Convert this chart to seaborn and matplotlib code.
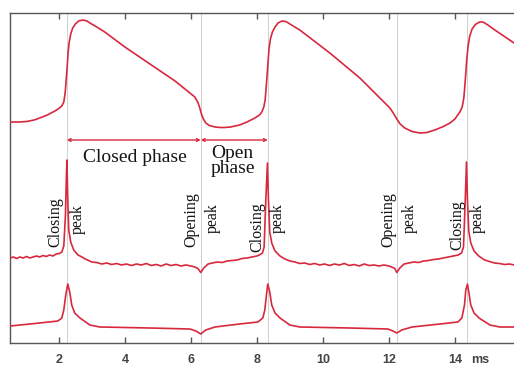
import numpy as np
import pandas as pd
import matplotlib
matplotlib.use("Agg")
import matplotlib.pyplot as plt
import seaborn as sns

# ---- data (time in ms, amplitudes in arbitrary display units) ----
egg_t = [0.52, 0.80, 1.03, 1.25, 1.42, 1.65, 1.88, 2.00, 2.09, 2.15, 2.19, 2.22, 2.25,
         2.28, 2.31, 2.36, 2.42, 2.50, 2.60, 2.73, 2.85, 2.94, 3.10, 3.39, 4.00, 4.76,
         5.52, 6.12, 6.22, 6.27, 6.32, 6.38, 6.45, 6.56, 6.73, 6.90, 7.03, 7.20, 7.48,
         7.70, 7.94, 8.08, 8.15, 8.21, 8.25, 8.28, 8.31, 8.34, 8.37, 8.41, 8.47, 8.55,
         8.64, 8.76, 8.88, 9.00, 9.30, 10.21, 11.12, 12.03, 12.15, 12.24, 12.34, 12.48,
         12.70, 12.94, 13.15, 13.39, 13.65, 13.85, 14.00, 14.15, 14.22, 14.27, 14.30,
         14.33, 14.36, 14.40, 14.45, 14.52, 14.62, 14.75, 14.85, 15.00, 15.21, 15.79]
egg_v = [221, 221, 221.5, 223, 225, 228, 232, 234.5, 237, 241, 250, 262, 275,
         290, 300, 309, 315, 319, 322, 323, 322, 320, 317, 311, 296, 279,
         262, 246, 240, 235, 229, 224, 220, 217.5, 216, 215.5, 215.5, 216, 218,
         221, 225, 228, 231, 236, 243, 255, 268, 282, 295, 304, 311, 316,
         320, 322, 321.5, 319, 313, 290, 265, 235, 229, 224, 219, 215,
         211.5, 210, 210.5, 213, 216.5, 220, 224, 231, 236, 245, 257,
         270, 284, 297, 307, 314, 318.5, 321, 321, 318, 313, 300]

degg_t = [0.52, 0.62, 0.72, 0.82, 0.92, 1.02, 1.12, 1.22, 1.32, 1.42, 1.52, 1.62, 1.72,
          1.82, 1.92, 2.02, 2.09, 2.15, 2.20, 2.23, 2.245, 2.27, 2.30, 2.36, 2.45, 2.58,
          2.70, 2.80, 2.90, 3.00, 3.15, 3.30, 3.45, 3.60, 3.75, 3.90, 4.05, 4.20, 4.35,
          4.50, 4.65, 4.80, 4.95, 5.10, 5.25, 5.40, 5.55, 5.70, 5.85, 6.00, 6.12, 6.21,
          6.30, 6.39, 6.52, 6.65, 6.80, 6.95, 7.10, 7.25, 7.40, 7.55, 7.70, 7.85, 8.00,
          8.10, 8.17, 8.22, 8.27, 8.32, 8.35, 8.39, 8.45, 8.55, 8.70, 8.85, 9.00, 9.15,
          9.30, 9.45, 9.60, 9.75, 9.90, 10.05, 10.20, 10.35, 10.50, 10.65, 10.80, 10.95,
          11.10, 11.25, 11.40, 11.55, 11.70, 11.85, 12.00, 12.12, 12.18, 12.24, 12.33,
          12.46, 12.60, 12.75, 12.90, 13.05, 13.20, 13.35, 13.50, 13.65, 13.80, 13.95,
          14.10, 14.20, 14.26, 14.31, 14.35, 14.38, 14.42, 14.48, 14.58, 14.72, 14.90,
          15.05, 15.20, 15.35, 15.50, 15.65, 15.80]
degg_v = [85, 86, 84.5, 86, 85, 86.5, 85, 86, 87, 86, 87.5, 86.5, 88,
          87, 89, 89.5, 91, 97, 128, 168, 183, 143, 113, 101, 93, 88,
          86, 84, 82.5, 81, 80.5, 79, 80, 78.5, 79.5, 78, 79, 77.5, 79,
          78, 79.5, 77.5, 78.5, 77, 79, 77.5, 78.5, 77, 78, 77, 76, 74.5,
          70.5, 75, 79, 80, 81, 80.5, 82, 82.5, 83, 84.5, 85, 86, 87,
          88.5, 90, 96, 143, 180, 143, 111, 100, 92, 87, 84, 82, 81,
          79.5, 80, 78.5, 79.5, 78, 79, 77.5, 79, 78, 79.5, 77.5, 78.5,
          77, 79, 77.5, 78, 77, 78, 77, 75.5, 74.5, 70.5, 75,
          79, 80, 81, 80.5, 82, 82.5, 83.5, 84, 85, 86, 87,
          88, 90, 96, 140, 181, 143, 112, 100, 92, 87, 83,
          81.5, 80, 79.5, 78.5, 79, 78]

sm_t = [0.52, 1.42, 1.97, 2.09, 2.15, 2.21, 2.27, 2.33, 2.39, 2.48, 2.64, 2.94, 3.24,
        4.76, 5.97, 6.15, 6.30, 6.45, 6.73, 7.48, 8.03, 8.18, 8.24, 8.29, 8.33, 8.39,
        8.45, 8.55, 8.70, 9.00, 9.30, 10.82, 11.97, 12.12, 12.24, 12.39, 12.70, 13.55,
        14.09, 14.21, 14.29, 14.33, 14.38, 14.42, 14.48, 14.58, 14.73, 15.06, 15.36, 15.79]
sm_v = [17, 20, 22, 25, 33, 48, 59, 51, 38, 30, 25, 18, 16,
        15, 14, 12, 9, 13, 16, 19, 21, 25, 33, 48, 59, 51,
        38, 30, 25, 18, 16, 15, 14, 12, 10, 13, 16, 19,
        21, 25, 38, 53, 59, 51, 38, 30, 25, 18, 16, 16]

event_times = [2.24, 6.30, 8.33, 12.24, 14.36]
xticks = [2, 4, 6, 8, 10, 12, 14]

vertical_labels = [("Closing", 1.88, 121), ("peak", 2.58, 124),
                   ("Opening", 6.03, 123), ("peak", 6.67, 125),
                   ("Closing", 8.03, 116), ("peak", 8.64, 125),
                   ("Opening", 11.97, 123), ("peak", 12.64, 125),
                   ("Closing", 14.06, 118), ("peak", 14.70, 125)]

# ---- figure ----
sns.set_style("white")
fig = plt.figure(figsize=(5.14, 3.70), dpi=100)
ax = fig.add_axes([10 / 514, 27 / 370, 504 / 514, 330 / 370])

line_color = "#d8283e"
for tt, vv in [(egg_t, egg_v), (degg_t, degg_v), (sm_t, sm_v)]:
    df = pd.DataFrame({"t": tt, "v": vv})
    sns.lineplot(data=df, x="t", y="v", ax=ax, color=line_color, lw=1.2,
                 estimator=None, sort=False, zorder=3)

for et in event_times:
    ax.axvline(et, color="#c9c9c9", lw=0.6, zorder=1)

ax.set_xlim(0.52, 15.79)
ax.set_ylim(0, 330)
ax.set_xlabel("")
ax.set_ylabel("")
ax.set_yticks([])
ax.set_xticks(xticks)
ax.set_xticklabels([str(x) for x in xticks])
ax.tick_params(axis="x", direction="in", length=4, width=1, color="#555555",
               top=True, bottom=True, labelsize=9, labelcolor="#444444", pad=8)
for lab in ax.get_xticklabels():
    lab.set_fontweight("bold")
    lab.set_family("Liberation Sans")

for side in ["left", "top", "bottom"]:
    ax.spines[side].set_color("#555555")
    ax.spines[side].set_linewidth(1.0)
ax.spines["right"].set_visible(False)

ax.text(14.76, -17, "ms", fontsize=9, color="#444444", family="Liberation Sans",
        fontweight="bold", ha="center", va="center", clip_on=False)

# phase arrows
arrow_y = 203
for a, b in [(event_times[0], event_times[1]), (event_times[1], event_times[2])]:
    ax.annotate("", xy=(b, arrow_y), xytext=(a, arrow_y),
                arrowprops=dict(arrowstyle="<->", color=line_color, lw=1.0,
                                mutation_scale=5, shrinkA=0, shrinkB=0))

serif = "Liberation Serif"
ax.text(4.30, 185, "Closed phase", fontsize=14, family=serif, color="#151515",
        ha="center", va="center")
ax.text(7.27, 182, "Open\nphase", fontsize=14, family=serif, color="#151515",
        ha="center", va="center", linespacing=0.8)

for txt, x, y in vertical_labels:
    ax.text(x, y, txt, fontsize=11.5, family=serif, color="#151515",
            rotation=90, ha="center", va="center")

fig.savefig("out.png", dpi=100)
